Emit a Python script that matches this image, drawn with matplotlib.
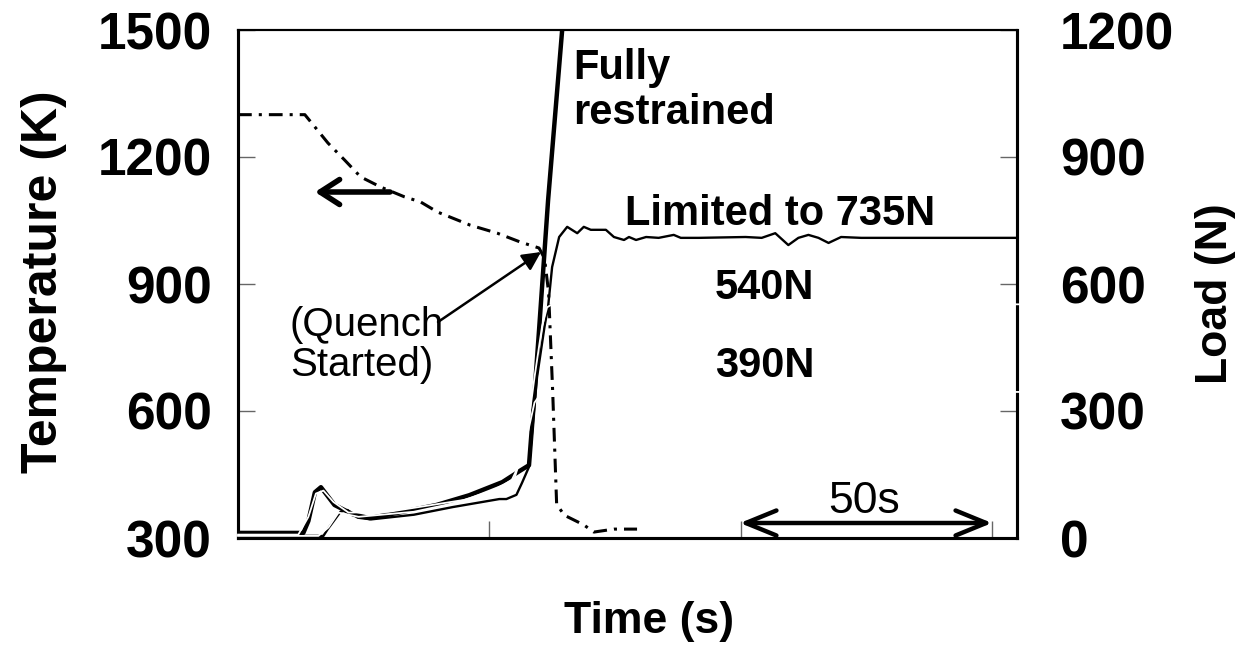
import matplotlib
matplotlib.use('Agg')
import matplotlib.pyplot as plt

plt.rcParams['font.family'] = ['Liberation Sans', 'DejaVu Sans']
plt.rcParams['font.weight'] = 'bold'

# temperature (left axis, K)
temp_t = [0, 13.3, 15.3, 17.9, 21.2, 24.4, 28.4, 33.1, 36.3, 39.7, 46.2, 51.6, 56.2, 59.9,
          61.0, 61.8, 62.6, 63.4, 64.9, 68.8, 70.8, 74.8, 79.4]
temp_k = [1300, 1300, 1271, 1233, 1193, 1153, 1129, 1106, 1094, 1070, 1039, 1020, 999, 985,
          960, 880, 650, 380, 354, 331, 314, 321, 321]

# fully restrained load (right axis, N)
fr_t = [0, 13, 14, 15.3, 16.5, 19.2, 23, 26.2, 32, 39.5, 46, 52.6, 56, 57.9, 58.9, 59.9,
        61.7, 64.5, 65.5]
fr_load = [12, 12, 40, 108, 120, 78, 55, 47, 60, 78, 101, 132, 158, 172, 326, 491,
           798, 1200, 1450]

# load limited to 735 N
lim_t = [0, 17, 17.8, 20.4, 21.8, 23.8, 26.5, 35, 42.7, 52, 53.4, 55.4, 56.5, 57.9, 59.5,
         61.0, 61.7, 62.5, 63.9, 65.5, 67.5, 68.8, 70.2, 73.2, 74.8, 76.8, 77.8, 79.2, 81.2,
         83.7, 86.7, 88.1, 91.7, 101, 104.2, 106.9, 109.5, 111.5, 113.5, 115.5, 117.5, 120,
         124, 155]
lim_load = [5, 5, 20, 62, 66, 48, 44, 55, 73, 92, 92, 102, 130, 168, 380, 500, 546, 640,
            711, 735, 720, 735, 728, 728, 711, 704, 711, 704, 711, 709, 716, 709, 709, 711,
            709, 720, 692, 709, 716, 709, 697, 711, 709, 709]

# 540 N and 390 N curves (white in the original)
w540_t = [0, 12, 14, 15.5, 17, 19, 22, 30, 45, 54, 57, 59, 60.5, 61.5, 62.5, 155.6]
w540_load = [8, 8, 50, 105, 112, 85, 60, 62, 90, 125, 200, 380, 500, 545, 552, 552]
w390_t = [0, 16, 18, 20, 24, 35, 48, 55, 57.5, 59, 60.5, 62, 155.6]
w390_load = [5, 5, 25, 60, 50, 62, 95, 140, 240, 320, 345, 345, 345]

temp_ticks = [300, 600, 900, 1200, 1500]
load_ticks = [0, 300, 600, 900, 1200]
time_ticks = [50, 100, 150]

W, H = 1243, 652
fig = plt.figure(figsize=(W / 100, H / 100), dpi=100)
ax = fig.add_axes([238 / W, 1 - 538 / H, 779 / W, 508 / H])
ax2 = ax.twinx()

ax.plot(temp_t, temp_k, color='black', lw=2.2, dashes=(4.5, 2.3, 1, 2.3))
ax2.plot(fr_t, fr_load, color='black', lw=3.2, solid_capstyle='butt')
ax2.plot(lim_t, lim_load, color='black', lw=1.7)
ax2.plot(w540_t, w540_load, color='white', lw=1.3, zorder=3, clip_on=False)
ax2.plot(w390_t, w390_load, color='white', lw=1.3, zorder=3, clip_on=False)

ax.set_xlim(0, 155)
ax.set_ylim(300, 1500)
ax2.set_ylim(0, 1200)
ax.set_xticks(time_ticks)
ax.set_xticklabels([])
ax.set_yticks(temp_ticks)
ax2.set_yticks(load_ticks)

for a in (ax, ax2):
    for s in a.spines.values():
        s.set_linewidth(2.2)
    a.spines['top'].set_linewidth(1.5)
ax.tick_params(axis='x', direction='in', length=12, width=1, color='#666666')
ax.tick_params(axis='y', direction='in', length=12, width=1, color='#666666',
               labelsize=37, pad=19)
ax2.tick_params(axis='y', direction='in', length=12, width=1, color='#666666',
                labelsize=37, pad=31)

# axis titles placed by pixel position
fig.text(44 / W, 1 - 282 / H, 'Temperature (K)', fontsize=36, fontweight='bold',
         rotation=90, ha='center', va='center')
fig.text(1215 / W, 1 - 294 / H, 'Load (N)', fontsize=32, fontweight='bold',
         rotation=90, ha='center', va='center')
fig.text(649 / W, 1 - 621 / H, 'Time (s)', fontsize=32, fontweight='bold',
         ha='center', va='center')


def px(x, y):
    return ((x - 238) / 779, (538 - y) / 508)


ax.text(*px(573, 124), 'Fully\nrestrained', transform=ax.transAxes, fontsize=30,
        fontweight='bold', ha='left', va='baseline', linespacing=1.15)
ax.text(*px(780, 225), 'Limited to 735N', transform=ax.transAxes, fontsize=30,
        fontweight='bold', ha='center', va='baseline')
ax.text(*px(715, 299), '540N', transform=ax.transAxes, fontsize=30,
        fontweight='bold', ha='left', va='baseline')
ax.text(*px(715, 377), '390N', transform=ax.transAxes, fontsize=30,
        fontweight='bold', ha='left', va='baseline')
ax.text(*px(290, 336), '(Quench', transform=ax.transAxes, fontsize=29,
        fontweight='normal', ha='left', va='baseline')
ax.text(*px(290, 376), 'Started)', transform=ax.transAxes, fontsize=29,
        fontweight='normal', ha='left', va='baseline')
ax.text(*px(864, 513), '50s', transform=ax.transAxes, fontsize=32,
        fontweight='normal', ha='center', va='baseline')

ax.annotate('', xy=px(541, 252), xytext=px(438, 322), xycoords='axes fraction',
            textcoords='axes fraction',
            arrowprops=dict(arrowstyle='-|>', color='black', lw=1.8, mutation_scale=28,
                            shrinkA=0, shrinkB=0))
ax.annotate('', xy=px(315, 192), xytext=px(390, 192), xycoords='axes fraction',
            textcoords='axes fraction',
            arrowprops=dict(arrowstyle='->,head_length=0.7,head_width=0.45', color='black',
                            lw=4, mutation_scale=20, shrinkA=0, shrinkB=0))
ax.annotate('', xy=px(740, 523), xytext=px(992, 523), xycoords='axes fraction',
            textcoords='axes fraction',
            arrowprops=dict(arrowstyle='<->,head_length=1.1,head_width=0.45', color='black',
                            lw=3.2, mutation_scale=20, shrinkA=0, shrinkB=0))

fig.savefig('out.png', dpi=100)
